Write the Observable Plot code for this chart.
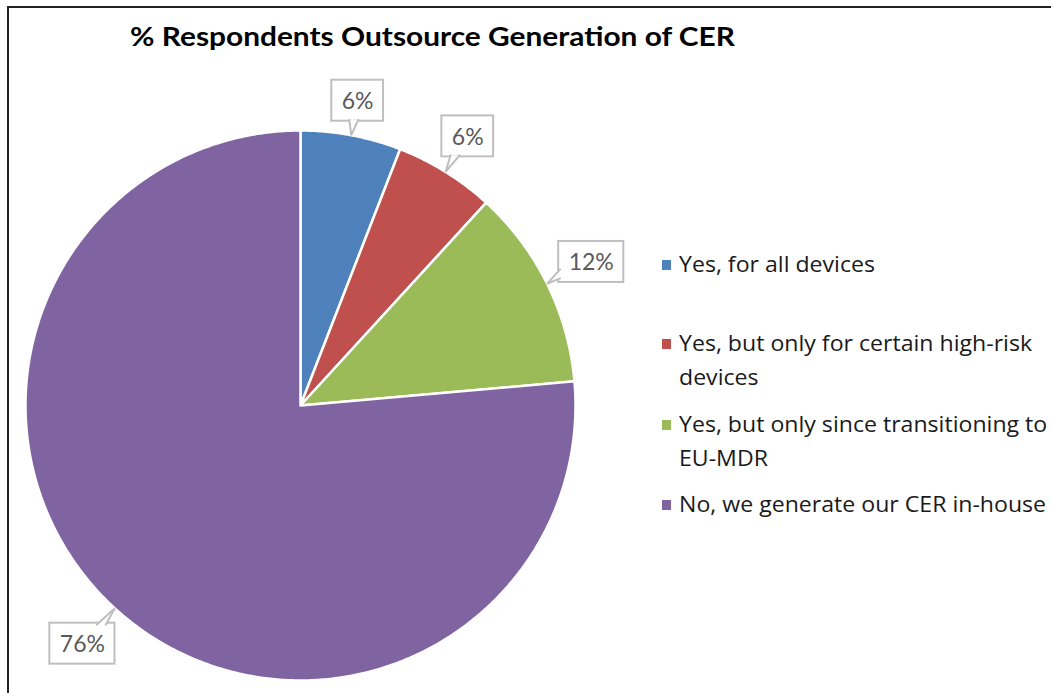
<!DOCTYPE html>
<html>
<head>
<meta charset="utf-8">
<script src="https://cdn.jsdelivr.net/npm/d3@7"></script>
<script src="https://cdn.jsdelivr.net/npm/@observablehq/plot@0.6"></script>
<style>
  html, body { margin: 0; padding: 0; background: #fff; }
  #wrap { position: relative; width: 1051px; height: 693px; overflow: hidden; font-family: Lato, "Open Sans", sans-serif; }
  #frame { position: absolute; left: 7px; top: 6px; right: -10px; bottom: -10px; border-top: 2px solid #222; border-left: 2px solid #222; }
  #chart { position: absolute; left: 0; top: 0; }
  #title { position: absolute; left: 130px; top: 23px; font-weight: bold; font-size: 26.5px; line-height: 1; color: #000; white-space: nowrap; transform-origin: 0 0; }
  #legend { position: absolute; left: 662px; top: 0; }
  .item { position: absolute; left: 0; width: 389px; }
  .sw { position: absolute; left: 0; top: 13px; width: 9px; height: 10px; }
  .lab { position: absolute; left: 17px; font-family: "Open Sans", Lato, sans-serif; font-size: 21px; line-height: 34px; color: #1a1a1a; transform-origin: 0 0; }
  #probe { position: absolute; visibility: hidden; white-space: nowrap; font-family: "Open Sans", Lato, sans-serif; font-size: 21px; }
</style>
</head>
<body>
<div id="wrap">
  <div id="frame"></div>
  <div id="chart"></div>
  <div id="title">% Respondents Outsource Generation of CER</div>
  <div id="legend"></div>
  <span id="probe"></span>
</div>
<script>
const categories = [
  "Yes, for all devices",
  "Yes, but only for certain high-risk devices",
  "Yes, but only since transitioning to EU-MDR",
  "No, we generate our CER in-house"
];
const shares = [5.9, 5.9, 11.8, 76.4];
const valueLabels = ["6%", "6%", "12%", "76%"];
const colors = ["#4F81BD", "#C0504D", "#9BBB59", "#8064A2"];

const W = 1051, H = 693;
const cx = 300, cy = 405, R = 275;

// slice geometry (angles clockwise from 12 o'clock)
const total = d3.sum(shares);
let acc = 0;
const slices = categories.map((c, i) => {
  const a0 = acc / total * 2 * Math.PI;
  acc += shares[i];
  const a1 = acc / total * 2 * Math.PI;
  return {c, i, a0, a1, mid: (a0 + a1) / 2};
});
const wedgePts = [];
for (const s of slices) {
  wedgePts.push({c: s.c, x: 0, y: 0});
  const n = Math.max(2, Math.ceil((s.a1 - s.a0) / (Math.PI / 360)));
  for (let k = 0; k <= n; k++) {
    const a = s.a0 + (s.a1 - s.a0) * k / n;
    wedgePts.push({c: s.c, x: Math.sin(a), y: Math.cos(a)});
  }
}

// label callouts: box placed along the mid-angle so its nearest point sits just outside the pie
const ctx = document.createElement("canvas").getContext("2d");
ctx.font = "23px Lato";
const nearest = (x, y, hw, hh) => {
  const nx = Math.max(Math.abs(x) - hw, 0), ny = Math.max(Math.abs(y) - hh, 0);
  return Math.hypot(nx, ny);
};
const boxes = slices.map(s => {
  const tw = ctx.measureText(valueLabels[s.i]).width;
  const hw = (tw + 20) / 2 / R, hh = 20.5 / R;
  const ux = Math.sin(s.mid), uy = Math.cos(s.mid);
  let lo = 1, hi = 2;
  for (let k = 0; k < 40; k++) {
    const r = (lo + hi) / 2;
    if (nearest(ux * r, uy * r, hw, hh) < 1.04) lo = r; else hi = r;
  }
  const x = ux * lo, y = uy * lo;
  return {i: s.i, label: valueLabels[s.i], x, y, x1: x - hw, x2: x + hw, y1: y - hh, y2: y + hh, hw, hh,
          tx: ux, ty: uy};
});
const tails = [];
for (const b of boxes) {
  const dx = b.tx - b.x, dy = b.ty - b.y;
  const tX = Math.abs(dx) > 1e-9 ? b.hw / Math.abs(dx) : Infinity;
  const tY = Math.abs(dy) > 1e-9 ? b.hh / Math.abs(dy) : Infinity;
  const half = 4.5 / R, inset = 1.5 / R, m = 4 / R;
  let p1, p2;
  if (tX < tY) {
    const ex = b.x + dx * tX, ey = b.y + dy * tX;
    const ey0 = Math.max(b.y1 + m + half, Math.min(b.y2 - m - half, ey));
    const ix = ex - Math.sign(dx) * inset;
    p1 = [ix, ey0 - half]; p2 = [ix, ey0 + half];
  } else {
    const ex = b.x + dx * tY, ey = b.y + dy * tY;
    const ex0 = Math.max(b.x1 + m + half, Math.min(b.x2 - m - half, ex));
    const iy = ey - Math.sign(dy) * inset;
    p1 = [ex0 - half, iy]; p2 = [ex0 + half, iy];
  }
  tails.push({i: b.i, x: p1[0], y: p1[1]}, {i: b.i, x: b.tx, y: b.ty}, {i: b.i, x: p2[0], y: p2[1]});
}

const chart = Plot.plot({
  width: W, height: H,
  marginLeft: cx - R, marginRight: W - (cx + R),
  marginTop: cy - R, marginBottom: H - (cy + R),
  x: {domain: [-1, 1], axis: null},
  y: {domain: [-1, 1], axis: null},
  color: {domain: categories, range: colors},
  style: {background: "transparent", overflow: "visible", fontFamily: "Lato, sans-serif"},
  marks: [
    Plot.line(wedgePts, {x: "x", y: "y", z: "c", fill: "c", stroke: "white", strokeWidth: 2.5, curve: "linear-closed"}),
    Plot.rect(boxes, {x1: "x1", x2: "x2", y1: "y1", y2: "y2", fill: "white", stroke: "#bfbfbf", strokeWidth: 2}),
    Plot.line(tails, {x: "x", y: "y", z: "i", fill: "white", stroke: "#bfbfbf", strokeWidth: 2, strokeLinejoin: "miter"}),
    Plot.text(boxes, {x: "x", y: "y", text: "label", fontSize: 23, fill: "#595959", dy: 1})
  ]
});
document.getElementById("chart").appendChild(chart);

// legend
const legend = d3.select("#legend");
const tops = [247, 326, 407, 487];
const labs = categories.map((c, i) => {
  const it = legend.append("div").attr("class", "item").style("top", tops[i] + "px");
  it.append("div").attr("class", "sw").style("background", colors[i]);
  return it.append("div").attr("class", "lab").text(c);
});

const fit = () => {
  const t = document.getElementById("title");
  t.style.transform = "none";
  const w = t.getBoundingClientRect().width;
  t.style.transform = `scaleX(${605 / w})`;
  const p = document.getElementById("probe");
  p.textContent = categories[0];
  const s = 196 / p.getBoundingClientRect().width;
  for (const l of labs) l.style("width", (370 / s) + "px").style("transform", `scaleX(${s})`);
};
fit();
if (document.fonts && document.fonts.ready) document.fonts.ready.then(fit);
</script>
</body>
</html>
